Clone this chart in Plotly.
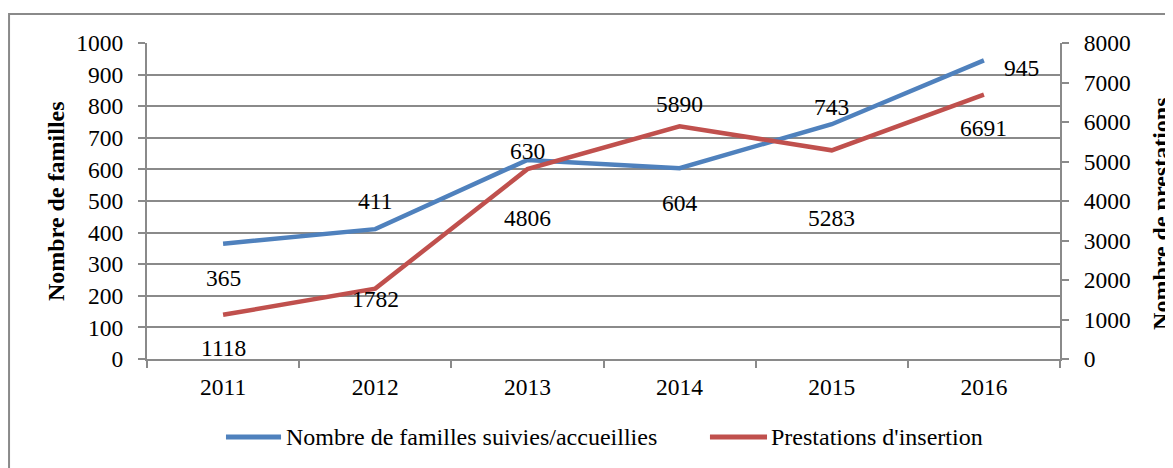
import plotly.graph_objects as go

years = ["2011", "2012", "2013", "2014", "2015", "2016"]
familles = [365, 411, 630, 604, 743, 945]
prestations = [1118, 1782, 4806, 5890, 5283, 6691]
left_ticks = [0, 100, 200, 300, 400, 500, 600, 700, 800, 900, 1000]
right_ticks = [0, 1000, 2000, 3000, 4000, 5000, 6000, 7000, 8000]
series_names = ["Nombre de familles suivies/accueillies", "Prestations d'insertion"]

# label offsets (pixels) for data labels
fam_shift = [(0, -34), (0, 28), (0, 9), (0, -35), (0, 17), (38, -8)]
pre_shift = [(0, -33), (0, -10), (0, -49), (0, 22), (0, -68), (0, -33)]

BLUE = "#4F81BD"
RED = "#C0504D"
GRID = "#8a8a8a"
FONT = "Liberation Serif"
FS = 23.5

fig = go.Figure()
fig.add_trace(go.Scatter(x=years, y=familles, mode="lines", name=series_names[0],
                         line=dict(color=BLUE, width=4.5), yaxis="y"))
fig.add_trace(go.Scatter(x=years, y=prestations, mode="lines", name=series_names[1],
                         line=dict(color=RED, width=4.5), yaxis="y2"))

annotations = []
for i, (v, (dx, dy)) in enumerate(zip(familles, fam_shift)):
    annotations.append(dict(x=i, y=v, xref="x", yref="y", text=str(v), showarrow=False,
                            xshift=dx, yshift=dy, font=dict(family=FONT, size=FS, color="black")))
for i, (v, (dx, dy)) in enumerate(zip(prestations, pre_shift)):
    annotations.append(dict(x=i, y=v, xref="x", yref="y2", text=str(v), showarrow=False,
                            xshift=dx, yshift=dy, font=dict(family=FONT, size=FS, color="black")))

annotations.append(dict(text="<b>Nombre de familles</b>", textangle=-90, xref="paper", yref="paper",
                        x=-0.0997, y=0.5, xanchor="center", yanchor="middle", showarrow=False,
                        font=dict(family=FONT, size=24, color="black")))
annotations.append(dict(text="<b>Nombre de prestations</b>", textangle=-90, xref="paper", yref="paper",
                        x=1.1106, y=0.459, xanchor="center", yanchor="middle", showarrow=False,
                        font=dict(family=FONT, size=24, color="black")))

# custom legend (line samples + text)
LEG_Y = -0.2468
leg = [(0.0865, 0.1468, 0.1500, BLUE, series_names[0]),
       (0.6166, 0.6791, 0.6810, RED, series_names[1])]
shapes = [dict(type="rect", xref="paper", yref="paper", x0=-0.1511, x1=1.135,
               y0=-0.40, y1=1.0918, line=dict(color=GRID, width=2), layer="below")]
for x0, x1, xt, col, name in leg:
    shapes.append(dict(type="line", xref="paper", yref="paper", x0=x0, x1=x1, y0=LEG_Y, y1=LEG_Y,
                       line=dict(color=col, width=5)))
    annotations.append(dict(text=name, xref="paper", yref="paper", x=xt, y=LEG_Y,
                            xanchor="left", yanchor="middle", showarrow=False,
                            font=dict(family=FONT, size=24, color="black")))

fig.update_layout(
    width=1165, height=460,
    margin=dict(l=139, r=113, t=35, b=109, autoexpand=False),
    paper_bgcolor="white", plot_bgcolor="white",
    font=dict(family=FONT, size=FS, color="black"),
    showlegend=False,
    xaxis=dict(type="category", range=[-0.5, 5.5], showgrid=False, showline=True,
               linecolor=GRID, linewidth=2, ticks="outside", tickson="boundaries",
               ticklen=7, tickcolor=GRID, tickwidth=2, ticklabelstandoff=6,
               zeroline=False, mirror=False, automargin=False),
    yaxis=dict(range=[0, 1000], tickvals=left_ticks, showgrid=True, gridcolor=GRID,
               gridwidth=2, showline=True, linecolor=GRID, linewidth=2, ticks="outside",
               ticklen=7, tickcolor=GRID, tickwidth=2, zeroline=False,
               ticklabelstandoff=10, automargin=False),
    yaxis2=dict(range=[0, 8000], tickvals=right_ticks, overlaying="y", side="right",
                showgrid=False, showline=True, linecolor=GRID, linewidth=2, ticks="outside",
                ticklen=7, tickcolor=GRID, tickwidth=2, zeroline=False,
                ticklabelstandoff=10, automargin=False),
    annotations=annotations,
    shapes=shapes,
)

fig.write_html("out.html")
